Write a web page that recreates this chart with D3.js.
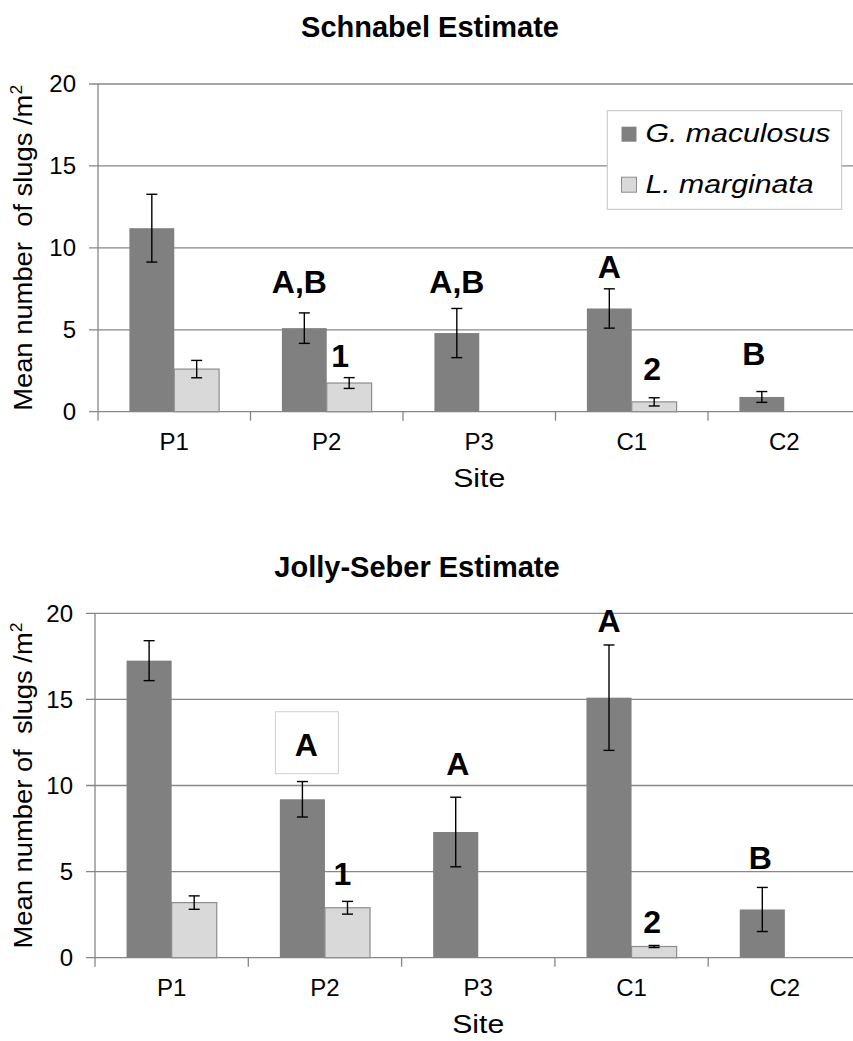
<!DOCTYPE html>
<html><head><meta charset="utf-8">
<script src="https://cdn.jsdelivr.net/npm/d3@7"></script>
<style>body{margin:0;background:#fff}svg{display:block}text{font-family:"Liberation Sans",Arial,sans-serif}</style>
</head><body>
<svg id="c" width="853" height="1041"></svg>
<script>
// ---------- data ----------
const sites = ["P1", "P2", "P3", "C1", "C2"];
const seriesNames = ["G. maculosus", "L. marginata"];
const yTicks = [0, 5, 10, 15, 20];

// Schnabel estimate
const schnabelG = [11.2, 5.1, 4.8, 6.3, 0.9];
const schnabelGErr = [2.07, 0.93, 1.5, 1.2, 0.33];
const schnabelL = [2.6, 1.75, null, 0.6, null];
const schnabelLErr = [0.53, 0.33, null, 0.25, null];
const schnabelLabelSite = ["P2", "P2", "P3", "C1", "C1", "C2"];
const schnabelLabelSeries = [0, 1, 0, 0, 1, 0];
const schnabelLabelText = ["A,B", "1", "A,B", "A", "2", "B"];
const schnabelLabelY = [7.25, 2.75, 7.25, 8.16, 1.94, 2.85];

// Jolly-Seber estimate
const jollyG = [17.25, 9.2, 7.3, 15.1, 2.8];
const jollyGErr = [1.16, 1.03, 2.02, 3.06, 1.28];
const jollyL = [3.2, 2.9, null, 0.65, null];
const jollyLErr = [0.39, 0.37, null, 0.06, null];
const jollyLabelSite = ["P2", "P2", "P3", "C1", "C1", "C2"];
const jollyLabelSeries = [0, 1, 0, 0, 1, 0];
const jollyLabelText = ["A", "1", "A", "A", "2", "B"];
const jollyLabelY = [11.73, 4.22, 10.61, 18.93, 1.42, 5.13];
const jollyLabelBoxed = [true, false, false, false, false, false];

// ---------- styles / layout ----------
const colors = ["#808080", "#d9d9d9"];
const gridColor = "#878787";
const svg = d3.select("#c");
svg.append("rect").attr("width", 853).attr("height", 1041).attr("fill", "#fff");

const panels = [
  { title: "Schnabel Estimate", titleX: 430, titleY: 37, x0: 98, x1: 860.5, y0: 411.7, y1: 84,
    yTitle: ["Mean number  of slugs /m", "2"], siteY: 487,
    G: schnabelG, GE: schnabelGErr, L: schnabelL, LE: schnabelLErr,
    lSite: schnabelLabelSite, lSer: schnabelLabelSeries, lText: schnabelLabelText, lY: schnabelLabelY,
    lDx: [-5, -9, 0, 0, -2, -8], lBox: null, legend: true },
  { title: "Jolly-Seber Estimate", titleX: 417, titleY: 577, x0: 95, x1: 861.5, y0: 957.7, y1: 613.3,
    yTitle: ["Mean number of  slugs /m", "2"], siteY: 1033,
    G: jollyG, GE: jollyGErr, L: jollyL, LE: jollyLErr,
    lSite: jollyLabelSite, lSer: jollyLabelSeries, lText: jollyLabelText, lY: jollyLabelY,
    lDx: [4, -5, 2, 0, -2, -2], lBox: jollyLabelBoxed, legend: false }
];

panels.forEach(p => {
  const g = svg.append("g");
  const x = d3.scaleBand().domain(sites).range([p.x0, p.x1]).padding(0);
  const xs = d3.scaleBand().domain([0, 1]).range([0, x.bandwidth()]).paddingInner(0).paddingOuter(0.7);
  const y = d3.scaleLinear().domain([0, 20]).range([p.y0, p.y1]);

  // title
  g.append("text").attr("x", p.titleX).attr("y", p.titleY).attr("text-anchor", "middle")
    .attr("font-size", 29).attr("font-weight", "bold").attr("fill", "#000").text(p.title);

  // gridlines (with outward tick extension)
  g.selectAll("line.grid").data(yTicks).enter().append("line")
    .attr("x1", p.x0 - 9).attr("x2", p.x1)
    .attr("y1", d => y(d)).attr("y2", d => y(d))
    .attr("stroke", gridColor).attr("stroke-width", 1.3);
  // y axis line
  g.append("line").attr("x1", p.x0).attr("x2", p.x0).attr("y1", p.y1).attr("y2", p.y0 + 9)
    .attr("stroke", gridColor).attr("stroke-width", 1.3);
  // y tick labels
  g.selectAll("text.yt").data(yTicks).enter().append("text")
    .attr("x", p.x0 - 22).attr("y", d => y(d)).attr("dy", "0.35em")
    .attr("text-anchor", "end").attr("font-size", 24).attr("fill", "#000").text(d => d);
  // x category boundary ticks
  g.selectAll("line.xt").data(sites.slice(1)).enter().append("line")
    .attr("x1", d => x(d)).attr("x2", d => x(d)).attr("y1", p.y0).attr("y2", p.y0 + 9)
    .attr("stroke", gridColor).attr("stroke-width", 1.3);
  // x labels
  g.selectAll("text.xl").data(sites).enter().append("text")
    .attr("x", d => x(d) + x.bandwidth() / 2).attr("y", p.y0 + 38.3)
    .attr("text-anchor", "middle").attr("font-size", 24).attr("fill", "#000").text(d => d);
  // x title
  g.append("text").attr("x", (p.x0 + p.x1) / 2).attr("y", p.siteY)
    .attr("text-anchor", "middle").attr("font-size", 25).attr("fill", "#000")
    .attr("textLength", 52).attr("lengthAdjust", "spacingAndGlyphs").text("Site");
  // y title
  const yt = g.append("text")
    .attr("transform", `translate(31.7,${(p.y0 + p.y1) / 2}) rotate(-90)`)
    .attr("text-anchor", "middle").attr("font-size", 25).attr("fill", "#000")
    .attr("textLength", 326).attr("lengthAdjust", "spacingAndGlyphs")
    .style("white-space", "pre");
  yt.append("tspan").text(p.yTitle[0]);
  yt.append("tspan").attr("font-size", 16).attr("dy", -10).text(p.yTitle[1]);

  // bars
  const series = [
    { vals: p.G, errs: p.GE, i: 0 },
    { vals: p.L, errs: p.LE, i: 1 }
  ];
  series.forEach(s => {
    const data = sites.map((site, k) => ({ site, v: s.vals[k], e: s.errs[k] })).filter(d => d.v != null);
    g.selectAll(null).data(data).enter().append("rect")
      .attr("x", d => x(d.site) + xs(s.i)).attr("width", xs.bandwidth())
      .attr("y", d => y(d.v)).attr("height", d => y(0) - y(d.v))
      .attr("fill", colors[s.i])
      .attr("stroke", s.i === 1 ? "#8c8c8c" : "none").attr("stroke-width", 1.2);
  });
  // error bars
  series.forEach(s => {
    const data = sites.map((site, k) => ({ site, v: s.vals[k], e: s.errs[k] })).filter(d => d.v != null);
    const cx = d => x(d.site) + xs(s.i) + xs.bandwidth() / 2;
    const eg = g.selectAll(null).data(data).enter().append("g")
      .attr("stroke", "#000").attr("stroke-width", 1.4);
    eg.append("line").attr("x1", cx).attr("x2", cx).attr("y1", d => y(d.v + d.e)).attr("y2", d => y(d.v - d.e));
    eg.append("line").attr("x1", d => cx(d) - 5.5).attr("x2", d => cx(d) + 5.5).attr("y1", d => y(d.v + d.e)).attr("y2", d => y(d.v + d.e));
    eg.append("line").attr("x1", d => cx(d) - 5.5).attr("x2", d => cx(d) + 5.5).attr("y1", d => y(d.v - d.e)).attr("y2", d => y(d.v - d.e));
  });

  // significance labels
  p.lText.forEach((t, k) => {
    const cx = x(p.lSite[k]) + xs(p.lSer[k]) + xs.bandwidth() / 2 + p.lDx[k];
    const by = y(p.lY[k]);
    if (p.lBox && p.lBox[k]) {
      g.append("rect").attr("x", cx - 31).attr("y", by - 44).attr("width", 63).attr("height", 62)
        .attr("fill", "#fff").attr("stroke", "#d0d0d0").attr("stroke-width", 1);
    }
    g.append("text").attr("x", cx).attr("y", by).attr("text-anchor", "middle")
      .attr("font-size", 32).attr("font-weight", "bold").attr("fill", "#000").text(t);
  });

  // legend
  if (p.legend) {
    const lg = g.append("g");
    lg.append("rect").attr("x", 607.3).attr("y", 110.7).attr("width", 234.4).attr("height", 98.6)
      .attr("fill", "#fff").attr("stroke", "#c4c4c4").attr("stroke-width", 1);
    const legW = [185, 168];
    seriesNames.forEach((n, i) => {
      const ry = 126.7 + i * 50.5;
      lg.append("rect").attr("x", 621.5).attr("y", ry).attr("width", 15).attr("height", 15)
        .attr("fill", colors[i]).attr("stroke", i === 1 ? "#8c8c8c" : "none").attr("stroke-width", 1);
      lg.append("text").attr("x", 645.5).attr("y", ry + 15.6).attr("font-size", 25)
        .attr("font-style", "italic").attr("fill", "#000")
        .attr("textLength", legW[i]).attr("lengthAdjust", "spacingAndGlyphs").text(n);
    });
  }
});
</script>
</body></html>
